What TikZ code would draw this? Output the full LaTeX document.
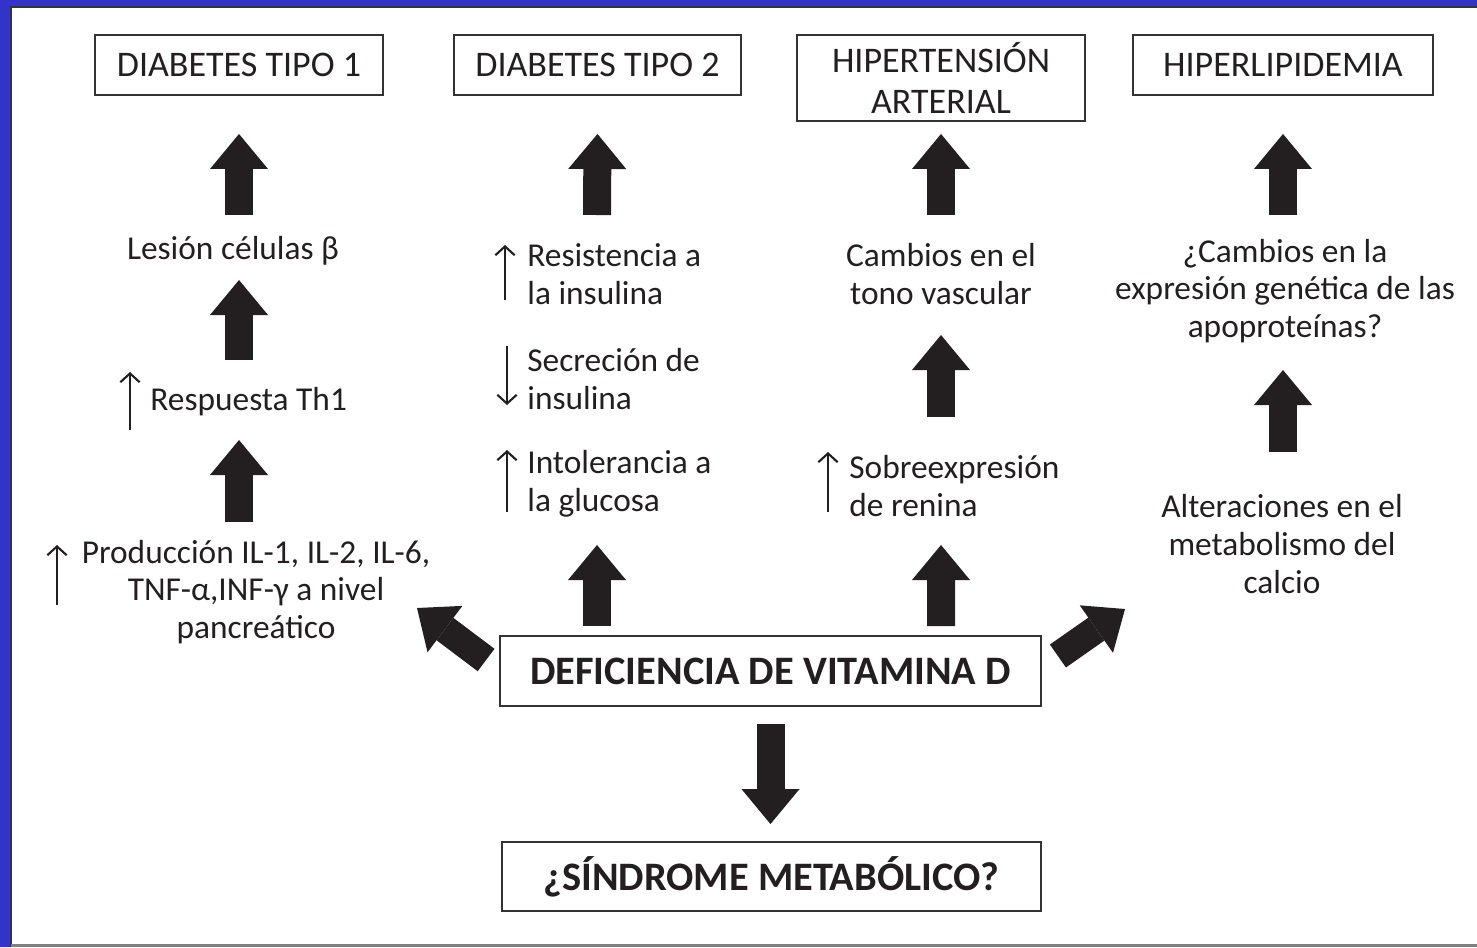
\documentclass[tikz,border=0pt]{standalone}
\usepackage{fontspec}
\setmainfont{Carlito}
\usetikzlibrary{arrows.meta,calc}
\definecolor{ink}{HTML}{231F20}
\definecolor{framblue}{HTML}{3333CC}
\definecolor{boxgray}{HTML}{333333}
\tikzset{
  titlebox/.style={draw=boxgray, line width=1.1pt, text=ink, align=center, inner sep=0pt,
    font=\fontsize{20.5}{23}\selectfont},
  mainbox/.style={titlebox, font=\fontsize{23}{27}\selectfont\bfseries},
  txt/.style={text=ink, inner sep=0pt, font=\fontsize{19}{21.5}\selectfont},
  fat/.style={line width=0.56cm, ink, -{Triangle[length=0.7cm 0 0, width=1.16cm 0, line width=0pt]}},
  thin/.style={line width=1.2pt, ink, -{Straight Barb[length=5pt 0 0, width=11pt 0]}}
}

\begin{document}
\begin{tikzpicture}[x=0.02cm, y=-0.02cm]
\useasboundingbox (0,0) rectangle (1477,947);
% frame
\fill[white] (0,0) rectangle (1477,947);
\fill[framblue] (0,0) rectangle (10,947);
\fill[framblue] (0,0) rectangle (1477,6);
\draw[boxgray, line width=1.2pt] (11,947) -- (11,7) -- (1477,7);
\draw[gray, line width=1.6pt] (11,945.5) -- (1477,945.5);

% boxes
\node[titlebox, minimum width=5.76cm, minimum height=1.2cm] (dt1) at (239,65) {DIABETES TIPO 1};
\node[titlebox, minimum width=5.74cm, minimum height=1.2cm] (dt2) at (597.5,65) {DIABETES TIPO 2};
\node[titlebox, minimum width=5.76cm, minimum height=1.72cm] (hta) at (941,78) {HIPERTENSIÓN\\ARTERIAL};
\node[titlebox, minimum width=6cm, minimum height=1.2cm] (hl) at (1283,65) {HIPERLIPIDEMIA};
\node[mainbox, minimum width=10.82cm, minimum height=1.4cm] (def) at (770.5,671) {DEFICIENCIA DE VITAMINA D};
\node[mainbox, minimum width=10.78cm, minimum height=1.38cm] (sm) at (771.5,876.5) {¿SÍNDROME METABÓLICO?};

% texts
\node[txt] (lesion) at (233,251) {Lesión células β};
\node[txt, anchor=west] (resp) at (150,402) {Respuesta Th1};
\node[txt, align=center] (prod) at (256,592) {Producción IL-1, IL-2, IL-6,\\TNF-α,INF-γ a nivel\\pancreático};
\node[txt, anchor=west, align=left] (res) at (527,274) {Resistencia a\\la insulina};
\node[txt, anchor=west, align=left] (sec) at (527,379) {Secreción de\\insulina};
\node[txt, anchor=west, align=left] (intol) at (527,484) {Intolerancia a\\la glucosa};
\node[txt, align=center] (tono) at (941,274) {Cambios en el\\tono vascular};
\node[txt, anchor=west, align=left] (renina) at (849,486) {Sobreexpresión\\de renina};
\node[txt, align=center] (apo) at (1285,291) {¿Cambios en la\\expresión genética de las\\apoproteínas?};
\node[txt, align=center] (calcio) at (1282,544) {Alteraciones en el\\metabolismo del\\calcio};

% small up/down marks
\draw[thin] ($(resp.west)+(-20,28)$) -- ($(resp.west)+(-20,-30)$);
\draw[thin] ($(prod.center)+(-199,13)$) -- ($(prod.center)+(-199,-47)$);
\draw[thin] ($(res.west)+(-22,26)$) -- ($(res.west)+(-22,-29)$);
\draw[thin] ($(sec.west)+(-20,-33)$) -- ($(sec.west)+(-20,26)$);
\draw[thin] ($(intol.west)+(-20,28)$) -- ($(intol.west)+(-20,-34)$);
\draw[thin] ($(renina.west)+(-21,26)$) -- ($(renina.west)+(-21,-34)$);

% big arrows
\draw[fat] ($(lesion.center)+(6,-36)$) -- ($(dt1.south)+(0,38)$);
\draw[fat] ($(resp.west)+(89,-42)$) -- ($(lesion.center)+(6,29)$);
\draw[fat] ($(prod.center)+(-17,-70)$) -- ($(resp.west)+(89,38)$);
\draw[fat] ($(res.west)+(70,-59)$) -- ($(dt2.south)+(0,38)$);
\draw[fat] ($(def.north)+(-173.5,-9)$) -- ($(intol.west)+(70,61)$);
\draw[fat] ($(tono.center)+(0,-59)$) -- ($(hta.south)+(0,12)$);
\draw[fat] ($(renina.west)+(92,-69)$) -- ($(tono.center)+(0,61)$);
\draw[fat] ($(def.north)+(170.5,-9)$) -- ($(renina.west)+(92,59)$);
\draw[fat] ($(apo.center)+(-2,-76)$) -- ($(hl.south)+(0,38)$);
\draw[fat] ($(calcio.center)+(1,-92)$) -- ($(apo.center)+(-2,79)$);
\draw[fat] ($(def.west)+(-13,-11)$) -- ($(prod.center)+(161,16)$);
\draw[fat] ($(def.east)+(16,-15)$) -- ($(calcio.center)+(-157,65)$);
\draw[fat] ($(def.south)+(0,17)$) -- ($(sm.north)+(-1,-17)$);
\end{tikzpicture}
\end{document}
